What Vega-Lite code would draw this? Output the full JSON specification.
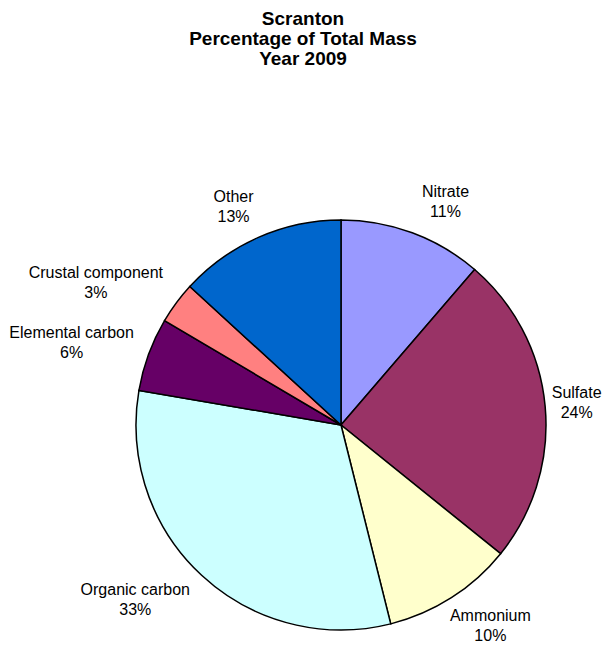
{
  "$schema": "https://vega.github.io/schema/vega-lite/v6.json",
  "width": 410,
  "height": 410,
  "autosize": {"type": "none"},
  "padding": {"left": 136, "top": 220, "right": 59, "bottom": 18},
  "background": "white",
  "title": {
    "text": ["Scranton", "Percentage of Total Mass", "Year 2009"],
    "font": "Liberation Sans",
    "fontSize": 19,
    "fontWeight": "bold",
    "lineHeight": 20,
    "color": "black",
    "anchor": "middle",
    "dx": -38,
    "offset": 115
  },
  "data": {
    "values": [
      {"idx": 1, "category": "Nitrate", "value": 11.3, "pct": "11%"},
      {"idx": 2, "category": "Sulfate", "value": 24.5, "pct": "24%"},
      {"idx": 3, "category": "Ammonium", "value": 10.3, "pct": "10%"},
      {"idx": 4, "category": "Organic carbon", "value": 31.6, "pct": "33%"},
      {"idx": 5, "category": "Elemental carbon", "value": 5.8, "pct": "6%"},
      {"idx": 6, "category": "Crustal component", "value": 3.3, "pct": "3%"},
      {"idx": 7, "category": "Other", "value": 13.2, "pct": "13%"}
    ]
  },
  "encoding": {
    "theta": {"field": "value", "type": "quantitative", "stack": true},
    "order": {"field": "idx", "type": "quantitative"}
  },
  "layer": [
    {
      "mark": {"type": "arc", "stroke": "black", "strokeWidth": 1.5},
      "encoding": {
        "color": {
          "field": "category",
          "type": "nominal",
          "scale": {
            "domain": ["Nitrate", "Sulfate", "Ammonium", "Organic carbon", "Elemental carbon", "Crustal component", "Other"],
            "range": ["#9999FF", "#993366", "#FFFFCC", "#CCFFFF", "#660066", "#FF8080", "#0066CC"]
          },
          "legend": null
        }
      }
    },
    {
      "mark": {
        "type": "text",
        "radius": 212,
        "font": "Liberation Sans",
        "fontSize": 16,
        "color": "black",
        "align": "center",
        "baseline": "middle",
        "dx": {"expr": "(sin(PI*(datum.value_start+datum.value_end)/100) >= 0 ? 1 : -1) * max(length(datum.category), 3.5) * 4.4 * min(1, 0.66 + 1.5*abs(cos(PI*(datum.value_start+datum.value_end)/100)))"},
        "dy": {"expr": "-cos(PI*(datum.value_start+datum.value_end)/100) * 26 - 10"}
      },
      "encoding": {"text": {"field": "category", "type": "nominal"}}
    },
    {
      "mark": {
        "type": "text",
        "radius": 212,
        "font": "Liberation Sans",
        "fontSize": 16,
        "color": "black",
        "align": "center",
        "baseline": "middle",
        "dx": {"expr": "(sin(PI*(datum.value_start+datum.value_end)/100) >= 0 ? 1 : -1) * max(length(datum.category), 3.5) * 4.4 * min(1, 0.66 + 1.5*abs(cos(PI*(datum.value_start+datum.value_end)/100)))"},
        "dy": {"expr": "-cos(PI*(datum.value_start+datum.value_end)/100) * 26 + 10"}
      },
      "encoding": {"text": {"field": "pct", "type": "nominal"}}
    }
  ]
}
